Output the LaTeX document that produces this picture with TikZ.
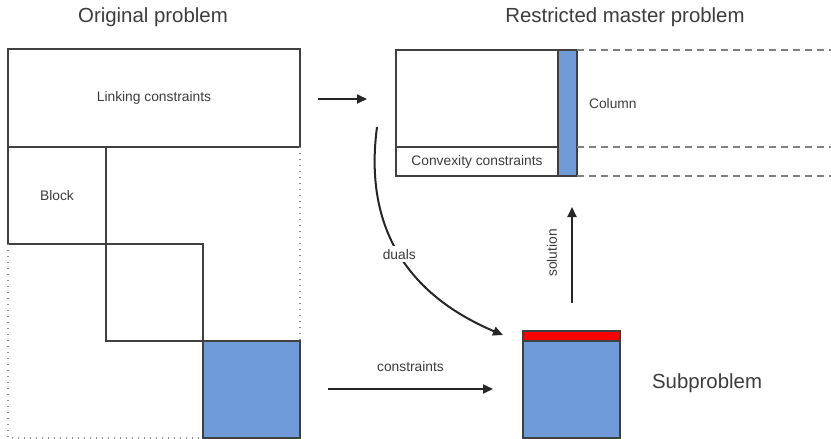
\documentclass[tikz,border=0pt]{standalone}
\usepackage{fontspec}
\setmainfont{Liberation Sans}
\usetikzlibrary{arrows.meta,positioning,fit}
\definecolor{subblue}{HTML}{6F9BD8}
\definecolor{subred}{HTML}{FF0000}
\definecolor{linegray}{HTML}{404040}
\definecolor{textgray}{HTML}{3C3C3C}

\begin{document}
\begin{tikzpicture}[x=0.5pt, y=-0.5pt,
  cell/.style={draw=linegray, line width=0.7pt, inner sep=0pt, outer sep=0pt},
  filled/.style={cell, fill=subblue},
  title/.style={font=\fontsize{10.2}{12}\selectfont, text=textgray},
  lbl/.style={font=\fontsize{6.9}{8}\selectfont, text=textgray},
  arr/.style={-{Triangle[length=5pt, width=4.5pt]}, line width=1pt, black!85},
  dots/.style={draw=black!45, line width=0.6pt, dash pattern=on 0.6pt off 2.4pt},
  dashes/.style={draw=black!50, line width=0.9pt, dash pattern=on 3.5pt off 2.5pt}
]
  \useasboundingbox (0,0) rectangle (831,439);

  % original problem
  \node[title] (origtitle) at (153,17) {Original problem};
  \node[cell, fit={(8,49) (300,147)}] (link) {};
  \node[cell, fit={(8,147) (106,244)}] (blk1) {};
  \node[cell, fit={(106,244) (203,341)}] (blk2) {};
  \node[filled, fit={(203,341) (300,438)}] (blk3) {};
  \node[lbl] (linklabel) at (link.center) {Linking constraints};
  \node[lbl] (blklabel) at (blk1.center) {Block};
  \draw[dots] (link.south east) -- (blk3.north east);
  \draw[dots] (blk1.south west) -- (blk1.south west |- blk3.south) -- (blk3.south west);

  % restricted master problem
  \node[title] (rmptitle) at (625,17) {Restricted master problem};
  \node[cell, fit={(396,50) (558,147)}] (rmp) {};
  \node[cell, fit={(396,147) (558,176)}] (convex) {};
  \node[lbl] (convexlabel) at (convex.center) {Convexity constraints};
  \node[filled, fit={(558,50) (577,176)}] (column) {};
  \node[lbl, anchor=west] (collabel) at (582,104) {Column};
  \coordinate (edgetop) at (831,50);
  \coordinate (edgemid) at (831,147);
  \coordinate (edgebot) at (831,176);
  \draw[dashes] (column.north east) -- (edgetop);
  \draw[dashes] (column.east |- convex.north) -- (edgemid);
  \draw[dashes] (column.south east) -- (edgebot);

  % subproblem
  \node[cell, fill=subred, fit={(523,331) (620,341)}] (dualrow) {};
  \node[filled, fit={(523,341) (620,438)}] (sub) {};
  \node[title, anchor=west] (sublabel) at (645,383) {Subproblem};

  % flows
  \coordinate (linkout) at (318,99);
  \coordinate (rmpin) at (367,99);
  \draw[arr] (linkout) -- (rmpin);

  \coordinate (dualsout) at (377,127);
  \coordinate (dualsin) at (503,335);
  \draw[arr] (dualsout) .. controls (362,240) and (420,300) .. (dualsin)
    node[lbl, pos=0.47, fill=white, inner sep=1.5pt] (dualslabel) {duals};

  \coordinate (solout) at (572,303);
  \coordinate (solin) at (572,207);
  \draw[arr] (solout) -- (solin);
  \node[lbl, rotate=90] (sollabel) at (552,253) {solution};

  \coordinate (consout) at (328,389);
  \coordinate (consin) at (493,389);
  \draw[arr] (consout) -- (consin)
    node[lbl, midway, above=5pt] (conslabel) {constraints};
\end{tikzpicture}
\end{document}
